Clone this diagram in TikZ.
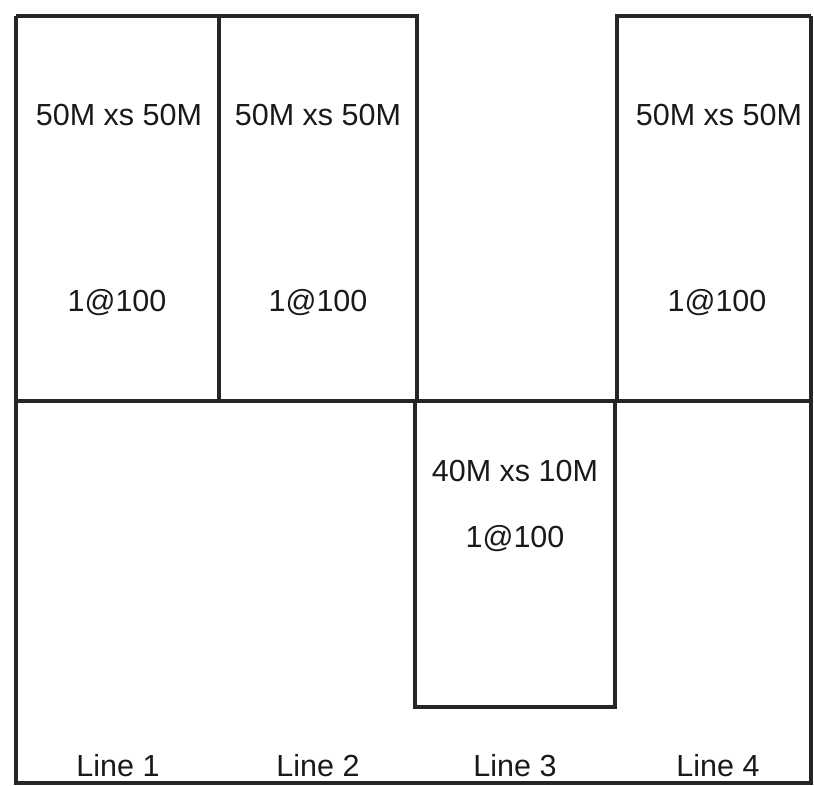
\documentclass[tikz,border=0pt]{standalone}
\usepackage{fontspec}
\setmainfont{Liberation Sans}
\tikzset{
  frame/.style={line width=3.2pt, draw=black!85, line join=miter},
  lbl/.style={anchor=base, font=\fontsize{30.5}{35}\selectfont, inner sep=0pt, text=black!90},
}
\begin{document}
\begin{tikzpicture}[x=1pt,y=-1pt]
\useasboundingbox (0,0) rectangle (814,785);
% outer frame
\draw[frame] (16,16) -- (16,783) -- (811,783) -- (811,16);
% top boxes lines 1-2
\draw[frame] (16,16) -- (417,16) -- (417,401);
\draw[frame] (219,16) -- (219,401);
% top box line 4
\draw[frame] (617,401) -- (617,16) -- (811,16);
% horizontal divider
\draw[frame] (16,401) -- (811,401);
% lower box line 3
\draw[frame] (415,401) -- (415,707) -- (615,707) -- (615,401);
% texts
\node[lbl] (t1) at (119,125) {50M xs 50M};
\node[lbl] (t2) at (318,125) {50M xs 50M};
\node[lbl] (t4) at (719,125) {50M xs 50M};
\node[lbl] (p1) at (117,311) {1@100};
\node[lbl] (p2) at (318,311) {1@100};
\node[lbl] (p4) at (717,311) {1@100};
\node[lbl] (t3) at (515,481) {40M xs 10M};
\node[lbl] (p3) at (515,547) {1@100};
\node[lbl] (l1) at (118,776) {Line 1};
\node[lbl] (l2) at (318,776) {Line 2};
\node[lbl] (l3) at (515,776) {Line 3};
\node[lbl] (l4) at (718,776) {Line 4};
\end{tikzpicture}
\end{document}
